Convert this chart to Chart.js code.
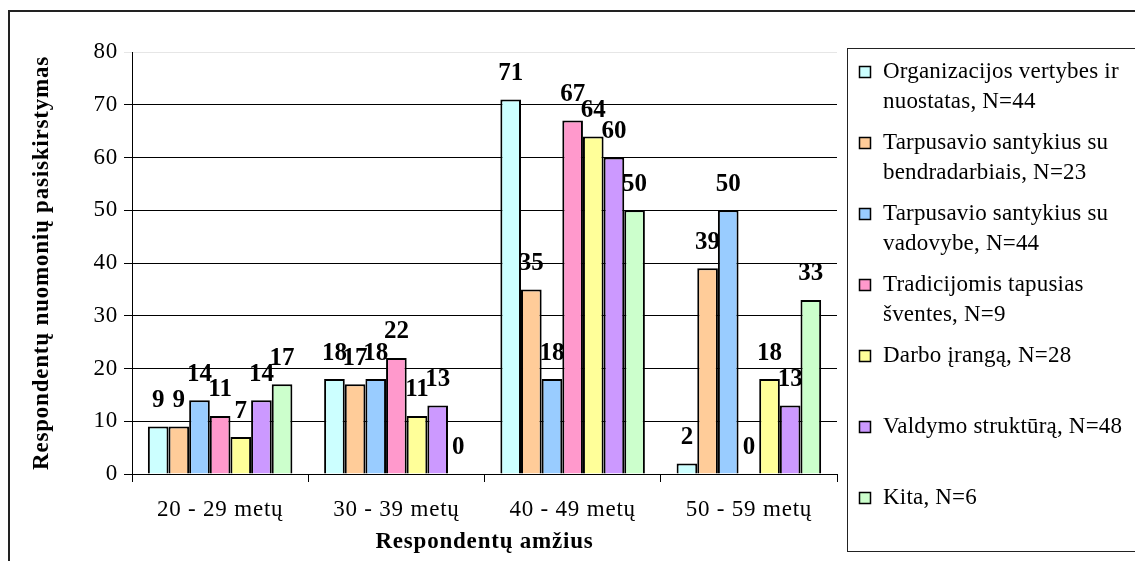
<!DOCTYPE html>
<html lang="lt">
<head>
<meta charset="utf-8">
<title>Respondentų nuomonių pasiskirstymas</title>
<script src="https://cdn.jsdelivr.net/npm/chart.js@4/dist/chart.umd.min.js"></script>
<style>
  html, body { margin: 0; padding: 0; background: #fff; }
  canvas { display: block; }
</style>
</head>
<body>
<canvas id="ageChart" width="1135" height="561"></canvas>
<script>
(() => {
  'use strict'

  const ageGroups = ['20 - 29 metų', '30 - 39 metų', '40 - 49 metų', '50 - 59 metų']

  const seriesNames = [
    'Organizacijos vertybes ir nuostatas, N=44',
    'Tarpusavio santykius su bendradarbiais, N=23',
    'Tarpusavio santykius su vadovybe, N=44',
    'Tradicijomis tapusias šventes, N=9',
    'Darbo įrangą, N=28',
    'Valdymo struktūrą, N=48',
    'Kita, N=6'
  ]

  const vertybes = [9, 18, 71, 2]
  const bendradarbiai = [9, 17, 35, 39]
  const vadovybe = [14, 18, 18, 50]
  const sventes = [11, 22, 67, 0]
  const iranga = [7, 11, 64, 18]
  const struktura = [14, 13, 60, 13]
  const kita = [17, 0, 50, 33]

  const seriesColors = [
    '#ccffff',
    '#ffcc99',
    '#99ccff',
    '#ff99cc',
    '#ffff99',
    '#cc99ff',
    '#ccffcc'
  ]

  const yTicks = [0, 10, 20, 30, 40, 50, 60, 70, 80]

  const serif = "'Liberation Serif', 'Times New Roman', serif"

  const seriesValues = [vertybes, bendradarbiai, vadovybe, sventes, iranga, struktura, kita]

  // slightly wide-set axis text
  const spacing = {
    id: 'spacing',
    beforeLayout(chart) { chart.ctx.letterSpacing = '0.8px' },
    beforeDraw(chart) { chart.ctx.letterSpacing = '0.8px' }
  }

  // thin frame round the whole figure
  const frame = {
    id: 'frame',
    beforeDraw(chart) {
      const c = chart.ctx
      c.save()
      c.strokeStyle = '#222'
      c.lineWidth = 2
      c.beginPath()
      c.moveTo(9, chart.height)
      c.lineTo(9, 11)
      c.lineTo(chart.width, 11)
      c.stroke()
      c.restore()
    }
  }

  // bold numbers above each bar
  const valueLabels = {
    id: 'valueLabels',
    afterDatasetsDraw(chart) {
      const c = chart.ctx
      c.save()
      c.letterSpacing = '0px'
      c.font = 'bold 25px ' + serif
      c.fillStyle = '#000'
      c.textAlign = 'center'
      c.textBaseline = 'middle'
      chart.data.datasets.forEach((ds, i) => {
        chart.getDatasetMeta(i).data.forEach((bar, j) => {
          c.fillText(String(ds.data[j]), bar.x, bar.y - 26)
        })
      })
      c.restore()
    }
  }

  // boxed legend on the right, long names wrapped onto two lines
  const sideLegend = {
    id: 'sideLegend',
    afterDraw(chart) {
      const c = chart.ctx
      const boxLeft = 847
      const boxTop = 48
      const boxBottom = 551
      const textX = 883
      const maxWidth = 260
      const step = 71
      const lineGap = 29.5

      c.save()
      c.strokeStyle = '#222'
      c.lineWidth = 1
      c.strokeRect(boxLeft + 0.5, boxTop + 0.5, chart.width, boxBottom - boxTop)

      c.letterSpacing = '0.2px'
      c.font = '23px ' + serif
      c.textBaseline = 'middle'
      c.textAlign = 'left'

      chart.data.datasets.forEach((ds, i) => {
        const y0 = 72 + i * step
        // marker
        c.fillStyle = ds.backgroundColor
        c.fillRect(859, y0 - 6, 12, 12)
        c.strokeStyle = '#000'
        c.lineWidth = 1.5
        c.strokeRect(859.5, y0 - 5.5, 11, 11)

        // wrap the name
        const words = ds.label.split(' ')
        const lines = []
        let line = ''
        words.forEach(w => {
          const test = line ? line + ' ' + w : w
          if (c.measureText(test).width > maxWidth && line) {
            lines.push(line)
            line = w
          } else {
            line = test
          }
        })
        lines.push(line)

        c.fillStyle = '#000'
        lines.forEach((t, k) => c.fillText(t, textX, y0 + k * lineGap))
      })
      c.restore()
    }
  }

  const ctx = document.getElementById('ageChart')

  const myChart = new Chart(ctx, {
    type: 'bar',
    data: {
      labels: ageGroups,
      datasets: seriesNames.map((name, i) => ({
        label: name,
        data: seriesValues[i],
        backgroundColor: seriesColors[i],
        borderColor: '#000',
        borderWidth: 2,
        borderSkipped: 'start',
        categoryPercentage: 0.82,
        barPercentage: 1
      }))
    },
    options: {
      responsive: false,
      animation: false,
      devicePixelRatio: 1,
      layout: {
        padding: { left: 0, top: 52, right: 298, bottom: 0 }
      },
      plugins: {
        legend: { display: false },
        tooltip: { enabled: false }
      },
      scales: {
        x: {
          afterFit(scale) { scale.height = 87 },
          grid: {
            offset: true,
            drawOnChartArea: false,
            drawTicks: true,
            tickLength: 8,
            color: '#000'
          },
          border: { color: '#000', width: 1 },
          ticks: {
            color: '#000',
            padding: 14,
            maxRotation: 0,
            autoSkip: false,
            font: { family: serif, size: 23 }
          },
          title: {
            display: true,
            text: 'Respondentų amžius',
            color: '#000',
            padding: { top: 0, bottom: 5 },
            font: { family: serif, size: 23, weight: 'bold' }
          }
        },
        y: {
          min: 0,
          max: 80,
          afterFit(scale) { scale.width = 132 },
          afterBuildTicks(scale) {
            scale.ticks = yTicks.map(v => ({ value: v }))
          },
          grid: {
            drawTicks: true,
            tickLength: 8,
            color: c => (c.tick && c.tick.value === 80 ? '#e6e6e6' : '#000'),
            lineWidth: 1
          },
          border: { color: '#000', width: 1 },
          ticks: {
            color: '#000',
            padding: 6,
            font: { family: serif, size: 23 }
          },
          title: {
            display: true,
            text: 'Respondentų nuomonių pasiskirstymas',
            color: '#000',
            padding: { top: 28, bottom: 0 },
            font: { family: serif, size: 23, weight: 'bold' }
          }
        }
      }
    },
    plugins: [spacing, frame, valueLabels, sideLegend]
  })
})()
</script>
</body>
</html>
